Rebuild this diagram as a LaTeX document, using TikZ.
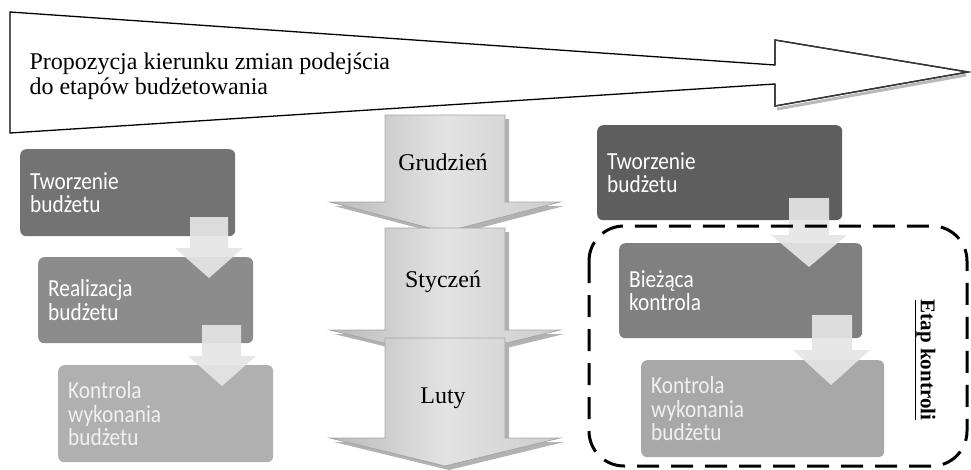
\documentclass[tikz,border=0pt]{standalone}
\usepackage{fontspec}
\setmainfont{Liberation Serif}
\newfontfamily\boxfont[FakeStretch=0.87]{Carlito}
\begin{document}
\begin{tikzpicture}[x=1pt, y=-1pt,
  every node/.style={font=\fontsize{24}{25}\selectfont},
  sbox/.style={rectangle, rounded corners=6pt, anchor=north west, inner xsep=10pt,
    inner ysep=0pt, align=left, text=white, font=\boxfont\fontsize{24.5}{23.5}\selectfont},
  larrow/.style={fill=gray!20, opacity=0.93},
  marrow/.style={draw=gray!70, line width=0.8pt, left color=gray!55, right color=gray!40,
    middle color=gray!22},
  mshadow/.style={fill=gray!60, shift={(4,4)}}]
  \useasboundingbox (0,0) rectangle (971,469);
  % Big arrow at the top
  \draw[gray!55, line width=3pt] (777,109) -- (966,75);
  \draw[line width=1.3pt, fill=white] (10,12) -- (775,65) -- (775,40) -- (968,72)
    -- (775,106) -- (775,84) -- (10,133) -- cycle;
  \draw[gray!45!black, line width=1.3pt] (775,65) -- (775,40) -- (968,72) -- (775,106) -- (775,84);
  \node[anchor=west, align=left] (prop) at (26,76)
    {Propozycja kierunku zmian podejścia\\do etapów budżetowania};
  % Months, three arrows in the middle
  \fill[mshadow] (385,115) -- (505,115) -- (505,202) -- (560,202) -- (445,232) -- (330,202) -- (385,202) -- cycle;
  \path[marrow] (385,115) -- (505,115) -- (505,202) -- (560,202) -- (445,232) -- (330,202) -- (385,202) -- cycle;
  \fill[mshadow] (385,228) -- (505,228) -- (505,330) -- (560,330) -- (445,358) -- (330,330) -- (385,330) -- cycle;
  \path[marrow] (385,228) -- (505,228) -- (505,330) -- (560,330) -- (445,358) -- (330,330) -- (385,330) -- cycle;
  \fill[mshadow] (385,338) -- (505,338) -- (505,438) -- (560,438) -- (445,466) -- (330,438) -- (385,438) -- cycle;
  \path[marrow] (385,338) -- (505,338) -- (505,438) -- (560,438) -- (445,466) -- (330,438) -- (385,438) -- cycle;
  \node (gru) at (443,162) {Grudzień};
  \node (sty) at (443,282) {Styczeń};
  \node (lut) at (443,398) {Luty};
  % Left: stages of budgeting
  \node[sbox, fill=black!55, minimum width=215pt, minimum height=87pt, text width=195pt] (tw1) at (20,149)
    {Tworzenie\\budżetu};
  \node[sbox, fill=black!45, minimum width=215pt, minimum height=86pt, text width=195pt] (re1) at (38,257)
    {Realizacja\\budżetu};
  \node[sbox, fill=black!31, minimum width=215pt, minimum height=97pt, text width=195pt, text=white!94!black] (ko1) at (58,365)
    {Kontrola\\wykonania\\budżetu};
  \fill[larrow] (190,217) -- (228,217) -- (228,248) -- (243,248) -- (209,278) -- (175,248) -- (190,248) -- cycle;
  \fill[larrow] (202,325) -- (241,325) -- (241,356) -- (256,356) -- (222,386) -- (188,356) -- (202,356) -- cycle;
  % Right: proposed stages
  \node[sbox, fill=black!63, minimum width=245pt, minimum height=95pt, text width=225pt] (tw2) at (597,125)
    {Tworzenie\\budżetu};
  \node[sbox, fill=black!50, minimum width=243pt, minimum height=95pt, text width=223pt] (bk2) at (619,243)
    {Bieżąca\\kontrola};
  \node[sbox, fill=black!34, minimum width=243pt, minimum height=97pt, text width=223pt, text=white!94!black] (ko2) at (641,360)
    {Kontrola\\wykonania\\budżetu};
  \fill[larrow] (789,198) -- (829,198) -- (829,235) -- (847,235) -- (809,267) -- (771,235) -- (789,235) -- cycle;
  \fill[larrow] (812,315) -- (852,315) -- (852,350) -- (870,350) -- (831,385) -- (793,350) -- (812,350) -- cycle;
  % Control stage frame
  \draw[line width=3pt, dash pattern=on 22pt off 12pt, rounded corners=35pt] (589,226) rectangle (967,466);
  \node[rotate=-90, font=\fontsize{21}{24}\selectfont\bfseries] (etap) at (925,360) {\underline{Etap kontroli}};
\end{tikzpicture}
\end{document}
